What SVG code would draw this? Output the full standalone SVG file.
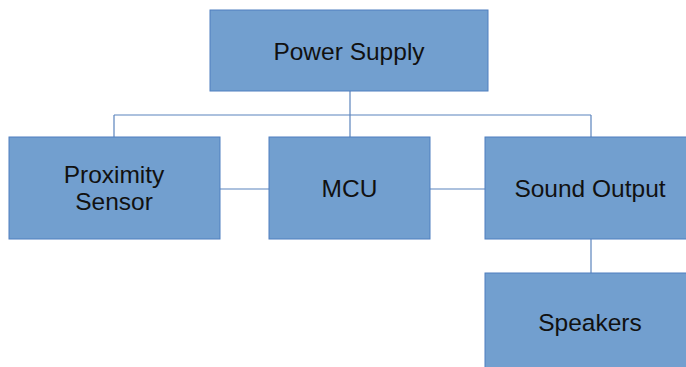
<svg xmlns="http://www.w3.org/2000/svg" width="686" height="367" viewBox="0 0 686 367">
<style>
.box{fill:#729fcf;stroke:#4f7fbf;stroke-width:1}
.lbl{font-family:"Liberation Sans",Arial,sans-serif;font-size:24.5px;fill:#111;text-anchor:middle}
.ln{stroke:#5b84bd;stroke-width:1.2;fill:none}
</style>
<rect width="686" height="367" fill="#fff"/>
<g id="connectors">
<path class="ln" d="M350 91V137"/>
<path class="ln" d="M114 115H591"/>
<path class="ln" d="M114 115V137M591 115V137"/>
<path class="ln" d="M220 189H269M430 189H485"/>
<path class="ln" d="M591 239V273"/>
</g>
<g id="power"><rect class="box" x="210" y="10" width="278" height="81"/><text class="lbl" x="349" y="60">Power Supply</text></g>
<g id="proximity"><rect class="box" x="9" y="137" width="211" height="102"/><text class="lbl" x="114" y="183">Proximity</text><text class="lbl" x="114" y="210">Sensor</text></g>
<g id="mcu"><rect class="box" x="269" y="137" width="161" height="102"/><text class="lbl" x="349.5" y="197">MCU</text></g>
<g id="sound"><rect class="box" x="485" y="137" width="210" height="102"/><text class="lbl" x="590" y="197">Sound Output</text></g>
<g id="speakers"><rect class="box" x="485" y="273" width="210" height="100"/><text class="lbl" x="590" y="331">Speakers</text></g>
</svg>
